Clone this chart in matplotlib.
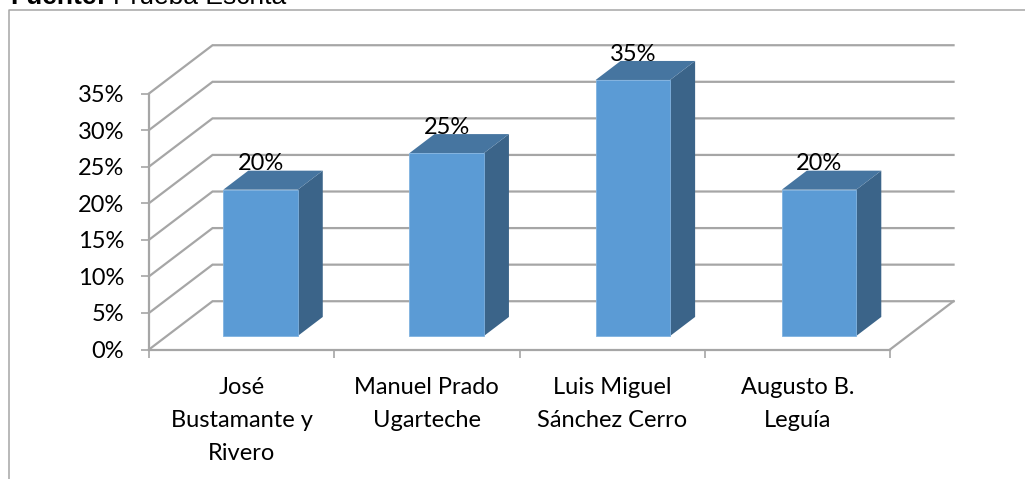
import matplotlib
matplotlib.use('Agg')
import matplotlib.pyplot as plt
from matplotlib.patches import Polygon

# values
categories = ["José\nBustamante y\nRivero", "Manuel Prado\nUgarteche", "Luis Miguel\nSánchez Cerro", "Augusto B.\nLeguía"]
values = [20, 25, 35, 20]
y_ticks = [0, 5, 10, 15, 20, 25, 30, 35]
source_bold = "Fuente:"
source_text = "Prueba Escrita"

W, H = 1025, 479
# wall depth and bar depth in data units
WALL_DX, WALL_DY = 0.343, 6.6
BAR_DX, BAR_DY = 0.135, 2.6
BAR_START, BAR_STEP = 0.602, 1.005
BAR_BASE = 1.85
BAR_WIDTH = 0.402

GRID = '#a6a6a6'
FRONT = '#5b9bd5'
TOP = '#4675a0'
SIDE = '#3b6489'
FONT_SIZE = 17

plt.rcParams['font.family'] = ['Lato', 'DejaVu Sans']

fig = plt.figure(figsize=(W / 100, H / 100), dpi=100)
ax = fig.add_axes([149 / W, 1 - 349.5 / H, 741 / W, 256 / H])
ax.set_xlim(0, len(categories))
ax.set_ylim(0, 35)
for s in ax.spines.values():
    s.set_visible(False)

# gridlines on the side wall and the back wall
for v in y_ticks:
    ax.plot([0, WALL_DX, len(categories) + WALL_DX], [v, v + WALL_DY, v + WALL_DY], color=GRID, lw=1.6,
            clip_on=False, zorder=1, solid_joinstyle='miter')

# floor and axes
ax.plot([len(categories), len(categories) + WALL_DX], [0, WALL_DY], color=GRID, lw=1.6, clip_on=False, zorder=1)
ax.plot([0, len(categories)], [0, 0], color=GRID, lw=1.6, clip_on=False, zorder=1)
ax.plot([0, 0], [0, 35], color=GRID, lw=1.6, clip_on=False, zorder=1)

# ticks
ax.set_yticks(y_ticks)
ax.set_yticklabels([f"{v}%" for v in y_ticks], fontsize=FONT_SIZE)
ax.set_xticks(range(len(categories) + 1))
ax.set_xticklabels([])
ax.set_xticks([i + 0.5 for i in range(len(categories))], minor=True)
ax.set_xticklabels(categories, minor=True, fontsize=FONT_SIZE, linespacing=1.7)
ax.tick_params(axis='y', length=6, width=1.2, color=GRID, pad=12)
ax.tick_params(axis='x', which='major', length=6, width=1.2, color=GRID, direction='out')
ax.tick_params(axis='x', which='minor', length=0, pad=20)

# bars as three faces
for i, v in enumerate(values):
    x0 = BAR_START + i * BAR_STEP - BAR_WIDTH / 2
    x1 = x0 + BAR_WIDTH
    y0 = BAR_BASE
    y1 = y0 + v
    ax.add_patch(Polygon([(x1, y0), (x1 + BAR_DX, y0 + BAR_DY), (x1 + BAR_DX, y1 + BAR_DY), (x1, y1)],
                         facecolor=SIDE, edgecolor='none', clip_on=False, zorder=3))
    ax.add_patch(Polygon([(x0, y1), (x1, y1), (x1 + BAR_DX, y1 + BAR_DY), (x0 + BAR_DX, y1 + BAR_DY)],
                         facecolor=TOP, edgecolor='none', clip_on=False, zorder=3))
    ax.add_patch(Polygon([(x0, y0), (x1, y0), (x1, y1), (x0, y1)],
                         facecolor=FRONT, edgecolor='#7fb2e0', lw=0.6, clip_on=False, zorder=4))
    ax.text((x0 + x1) / 2, y1 + 3.55, f"{v}%", ha='center', va='center', fontsize=FONT_SIZE, color='black', zorder=5)

# outer frame, only top and left are in the crop
fig.add_artist(plt.Line2D([8.5 / W, 8.5 / W, 1], [0, 1 - 9.5 / H, 1 - 9.5 / H], color=GRID, lw=1.1))

# source line, cut off by the top edge of the picture as in the reference
fig.text(10 / W, 1 - 4 / H, source_bold, family='Liberation Sans', fontweight='bold', fontsize=19, va='baseline')
fig.text(113 / W, 1 - 4 / H, source_text, family='Liberation Sans', fontsize=19, va='baseline')

fig.savefig('out.png', dpi=100)
